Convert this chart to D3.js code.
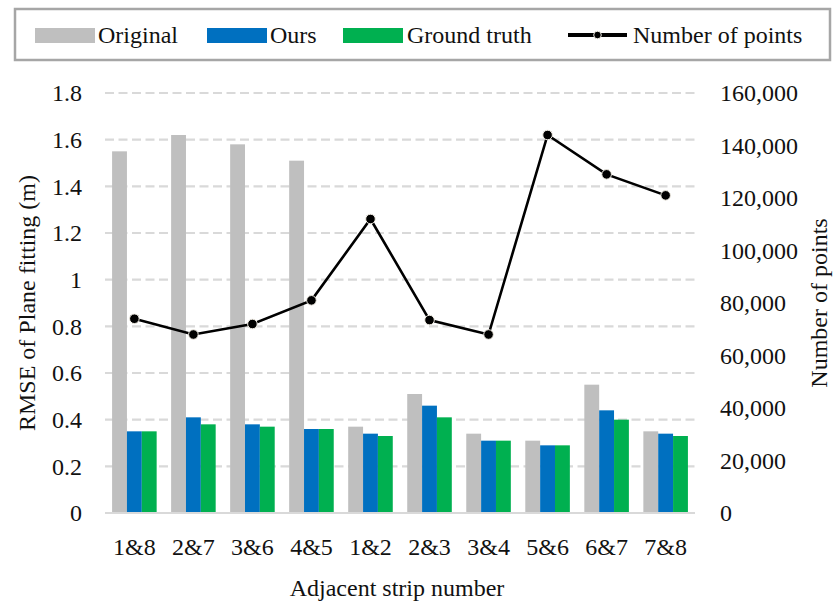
<!DOCTYPE html>
<html>
<head>
<meta charset="utf-8">
<script src="https://cdn.jsdelivr.net/npm/d3@7"></script>
<style>
  body { margin: 0; background: #fff; }
  text { font-family: "Liberation Serif", "DejaVu Serif", serif; fill: #111; }
</style>
</head>
<body>
<svg id="chart" width="838" height="602"></svg>
<script>
var strips = ['1&8', '2&7', '3&6', '4&5', '1&2', '2&3', '3&4', '5&6', '6&7', '7&8'];
var original = [1.55, 1.62, 1.58, 1.51, 0.37, 0.51, 0.34, 0.31, 0.55, 0.35];
var ours = [0.35, 0.41, 0.38, 0.36, 0.34, 0.46, 0.31, 0.29, 0.44, 0.34];
var groundTruth = [0.35, 0.38, 0.37, 0.36, 0.33, 0.41, 0.31, 0.29, 0.40, 0.33];
var numPoints = [74000, 68000, 72000, 81000, 112000, 73500, 68000, 144000, 129000, 121000];
var rmseTicks = [0, 0.2, 0.4, 0.6, 0.8, 1, 1.2, 1.4, 1.6, 1.8];
var pointTicks = [0, 20000, 40000, 60000, 80000, 100000, 120000, 140000, 160000];

var seriesNames = ['Original', 'Ours', 'Ground truth'];
var seriesColors = ['#bfbfbf', '#0070c0', '#00b050'];
var seriesValues = [original, ours, groundTruth];

var margin = { left: 105, right: 143, top: 93, bottom: 89 };
var width = 838, height = 602;
var fontSize = '24px';
var svg = d3.select('#chart');

var x = d3.scaleBand()
  .domain(strips)
  .range([margin.left, width - margin.right])
  .paddingInner(0.245)
  .paddingOuter(0.12);
var xSub = d3.scaleBand()
  .domain(seriesNames)
  .range([0, x.bandwidth()]);
var yLeft = d3.scaleLinear().domain([0, 1.8]).range([height - margin.bottom, margin.top]);
var yRight = d3.scaleLinear().domain([0, 160000]).range([height - margin.bottom, margin.top]);

// dashed gridlines, bars are drawn on top of them
svg.append('g')
  .selectAll('line')
  .data(rmseTicks.slice(1))
  .enter()
  .append('line')
  .attr('x1', margin.left)
  .attr('x2', width - margin.right)
  .attr('y1', yLeft)
  .attr('y2', yLeft)
  .attr('stroke', '#d9d9d9')
  .attr('stroke-width', 2.2)
  .attr('stroke-dasharray', '9,4.5');

var groups = svg.append('g')
  .selectAll('g')
  .data(strips)
  .enter()
  .append('g')
  .attr('transform', function(d) { return 'translate(' + x(d) + ',0)'; });
groups.selectAll('rect')
  .data(function(d, i) {
    return seriesNames.map(function(name, k) {
      return { name: name, value: seriesValues[k][i], color: seriesColors[k] };
    });
  })
  .enter()
  .append('rect')
  .attr('x', function(d) { return xSub(d.name); })
  .attr('width', xSub.bandwidth())
  .attr('y', function(d) { return yLeft(d.value); })
  .attr('height', function(d) { return yLeft(0) - yLeft(d.value); })
  .attr('fill', function(d) { return d.color; });

svg.append('line')
  .attr('x1', margin.left)
  .attr('x2', width - margin.right)
  .attr('y1', yLeft(0))
  .attr('y2', yLeft(0))
  .attr('stroke', '#d9d9d9')
  .attr('stroke-width', 2);

// number of points (right axis)
var line = d3.line()
  .x(function(d, i) { return x(strips[i]) + x.bandwidth() / 2; })
  .y(function(d) { return yRight(d); });
svg.append('path')
  .datum(numPoints)
  .attr('d', line)
  .attr('fill', 'none')
  .attr('stroke', '#000')
  .attr('stroke-width', 2.6);
svg.append('g')
  .selectAll('circle')
  .data(numPoints)
  .enter()
  .append('circle')
  .attr('cx', function(d, i) { return x(strips[i]) + x.bandwidth() / 2; })
  .attr('cy', yRight)
  .attr('r', 4.8)
  .attr('fill', '#000')
  .attr('stroke', '#f3efe6')
  .attr('stroke-width', 1);

var fmtLeft = function(d) { return d === 0 || d === 1 ? String(d) : d3.format('.1f')(d); };
var leftAxis = svg.append('g')
  .attr('transform', 'translate(' + (margin.left - 23) + ',0)')
  .call(d3.axisLeft(yLeft).tickValues(rmseTicks).tickFormat(fmtLeft).tickSize(0).tickPadding(0));
var rightAxis = svg.append('g')
  .attr('transform', 'translate(' + (width - margin.right + 25) + ',0)')
  .call(d3.axisRight(yRight).tickValues(pointTicks).tickFormat(d3.format(',')).tickSize(0).tickPadding(0));
var bottomAxis = svg.append('g')
  .attr('transform', 'translate(0,' + (height - margin.bottom) + ')')
  .call(d3.axisBottom(x).tickSize(0).tickPadding(25));
[leftAxis, rightAxis, bottomAxis].forEach(function(a) {
  a.select('.domain').remove();
  a.selectAll('text').style('font-size', fontSize).attr('fill', '#111');
});

svg.append('text')
  .attr('transform', 'translate(35,' + ((margin.top + height - margin.bottom) / 2) + ') rotate(-90)')
  .attr('text-anchor', 'middle')
  .style('font-size', fontSize)
  .text('RMSE of Plane fitting (m)');
svg.append('text')
  .attr('transform', 'translate(827,' + ((margin.top + height - margin.bottom) / 2) + ') rotate(-90)')
  .attr('text-anchor', 'middle')
  .style('font-size', fontSize)
  .text('Number of points');
svg.append('text')
  .attr('x', (margin.left + width - margin.right) / 2 - 3)
  .attr('y', 596)
  .attr('text-anchor', 'middle')
  .style('font-size', fontSize)
  .text('Adjacent strip number');

// legend
var legend = svg.append('g');
legend.append('rect')
  .attr('x', 15).attr('y', 9)
  .attr('width', 815).attr('height', 51)
  .attr('fill', '#fff')
  .attr('stroke', '#a6a6a6')
  .attr('stroke-width', 2.5);
var legendItems = [
  { name: 'Original', color: seriesColors[0], x: 35, tx: 98 },
  { name: 'Ours', color: seriesColors[1], x: 207, tx: 270 },
  { name: 'Ground truth', color: seriesColors[2], x: 343, tx: 407 }
];
legendItems.forEach(function(item) {
  legend.append('rect')
    .attr('x', item.x).attr('y', 28)
    .attr('width', 60).attr('height', 15)
    .attr('fill', item.color);
  legend.append('text')
    .attr('x', item.tx).attr('y', 43)
    .style('font-size', fontSize)
    .text(item.name);
});
legend.append('line')
  .attr('x1', 568).attr('x2', 627)
  .attr('y1', 35).attr('y2', 35)
  .attr('stroke', '#000').attr('stroke-width', 4);
legend.append('circle')
  .attr('cx', 597.5).attr('cy', 35).attr('r', 3.8)
  .attr('fill', '#000').attr('stroke', '#f3efe6');
legend.append('text')
  .attr('x', 633).attr('y', 43)
  .style('font-size', fontSize)
  .text('Number of points');
</script>
</body>
</html>
